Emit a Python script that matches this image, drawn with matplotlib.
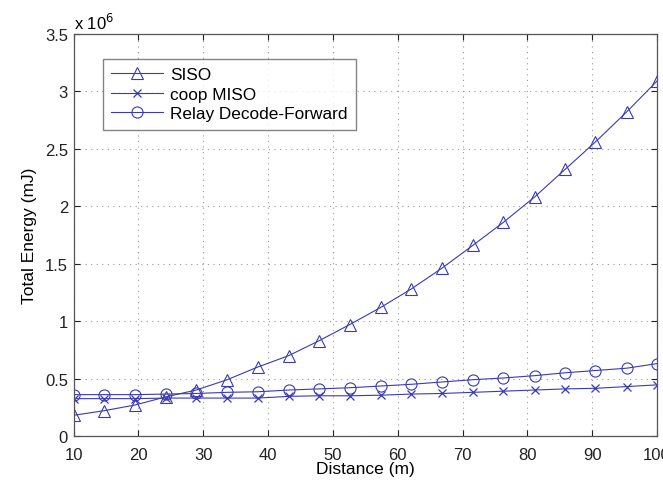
import matplotlib.pyplot as plt
import numpy as np

plt.rcParams['font.family'] = ['Liberation Sans', 'DejaVu Sans']

# distance (m)
distance = [10.0, 14.7, 19.5, 24.2, 28.9, 33.7, 38.4, 43.2, 47.9, 52.6,
            57.4, 62.1, 66.8, 71.6, 76.3, 81.1, 85.8, 90.5, 95.3, 100.0]

# total energy, in units of 1e6 mJ
siso = [0.18, 0.22, 0.27, 0.34, 0.40, 0.49, 0.60, 0.70, 0.83, 0.97,
        1.12, 1.28, 1.46, 1.66, 1.86, 2.08, 2.32, 2.56, 2.82, 3.09]
coop_miso = [0.325, 0.325, 0.325, 0.33, 0.33, 0.33, 0.33, 0.345, 0.35, 0.35,
             0.355, 0.365, 0.37, 0.38, 0.39, 0.40, 0.41, 0.415, 0.43, 0.445]
relay_df = [0.36, 0.36, 0.36, 0.365, 0.37, 0.38, 0.385, 0.40, 0.41, 0.42,
            0.435, 0.45, 0.47, 0.49, 0.505, 0.525, 0.55, 0.57, 0.59, 0.63]

xticks = [10, 20, 30, 40, 50, 60, 70, 80, 90, 100]
yticks = [0, 0.5, 1, 1.5, 2, 2.5, 3, 3.5]
ytick_labels = ['0', '0.5', '1', '1.5', '2', '2.5', '3', '3.5']

color = '#3a3ab4'

fig = plt.figure(figsize=(6.63, 4.85), dpi=100)
ax = fig.add_axes([0.111, 0.099, 0.880, 0.829])

ax.plot(distance, siso, '-', color=color, lw=0.8, marker='^', ms=8,
        mfc='none', mec=color, mew=0.8, label='SISO')
ax.plot(distance, coop_miso, '-', color=color, lw=0.8, marker='x', ms=6,
        mec=color, mew=0.9, label='coop MISO')
ax.plot(distance, relay_df, '-', color=color, lw=0.8, marker='o', ms=8,
        mfc='none', mec=color, mew=0.8, label='Relay Decode-Forward')

ax.set_xlim(10, 100)
ax.set_ylim(0, 3.5)
ax.set_xticks(xticks)
ax.set_yticks(yticks)
ax.set_yticklabels(ytick_labels)
ax.tick_params(direction='in', top=True, right=True, labelsize=12, length=4,
               colors='#222222')
ax.tick_params(axis='x', pad=8)
ax.tick_params(axis='y', pad=4)
ax.grid(True, linestyle=(0, (1, 4)), color='#999999', lw=0.8)
for s in ax.spines.values():
    s.set_color('#555555')
    s.set_linewidth(0.9)

ax.set_xlabel('Distance (m)', fontsize=12.5, labelpad=-1)
ax.set_ylabel('Total Energy (mJ)', fontsize=12.5, labelpad=6)
ax.text(0.0, 1.005, 'x 10$^6$', transform=ax.transAxes, fontsize=12,
        va='bottom', ha='left')

leg = ax.legend(loc='upper left', bbox_to_anchor=(0.035, 0.96), fontsize=12.4,
                frameon=True, fancybox=False, handlelength=3.0,
                borderpad=0.5, labelspacing=0.25, handletextpad=0.4)
leg.get_frame().set_edgecolor('#666666')
leg.get_frame().set_linewidth(1.0)

fig.savefig('out.png', dpi=100)
